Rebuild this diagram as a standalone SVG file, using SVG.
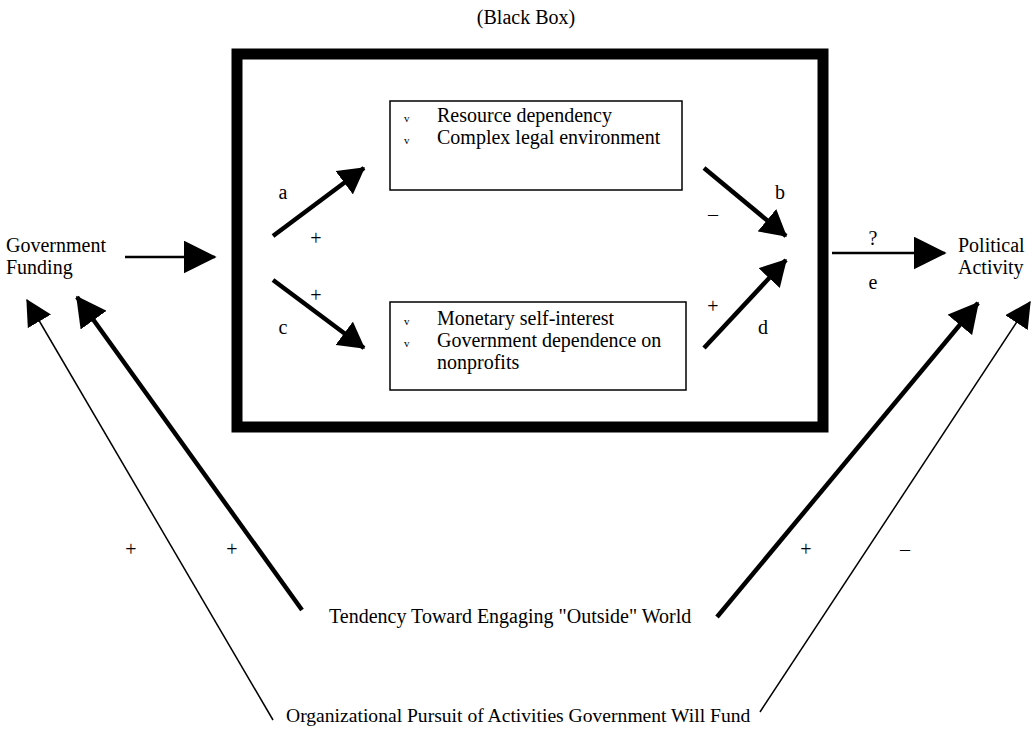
<svg xmlns="http://www.w3.org/2000/svg" width="1034" height="729" viewBox="0 0 1034 729">
<style>
text{font-family:"Liberation Serif","Times New Roman",serif;font-size:20px;fill:#000}
.c{text-anchor:middle}
.thick{stroke:#000;stroke-width:4.5;fill:none}
.med{stroke:#000;stroke-width:2.5;fill:none}
.thin{stroke:#000;stroke-width:1.5;fill:none}
.box{fill:#fff;stroke:#000;stroke-width:1.5}
.bul{font-size:11px}
</style>
<defs>
<marker id="horiz" viewBox="0 0 10 10" preserveAspectRatio="none" refX="9.5" refY="5" markerUnits="userSpaceOnUse" markerWidth="33" markerHeight="33" orient="auto"><path d="M0,0 L10,5 L0,10 z" fill="#000"/></marker>
<marker id="inner" viewBox="0 0 10 10" preserveAspectRatio="none" refX="9.5" refY="5" markerUnits="userSpaceOnUse" markerWidth="26" markerHeight="29" orient="auto"><path d="M0,0 L10,5 L0,10 z" fill="#000"/></marker>
<marker id="outer" viewBox="0 0 10 10" preserveAspectRatio="none" refX="9.5" refY="5" markerUnits="userSpaceOnUse" markerWidth="30" markerHeight="32" orient="auto"><path d="M0,0 L10,5 L0,10 z" fill="#000"/></marker>
<marker id="thinhead" viewBox="0 0 10 10" preserveAspectRatio="none" refX="9.5" refY="5" markerUnits="userSpaceOnUse" markerWidth="26" markerHeight="27" orient="auto"><path d="M0,0 L10,5 L0,10 z" fill="#000"/></marker>
</defs>
<rect width="1034" height="729" fill="#fff"/>
<text class="c" x="526" y="24">(Black Box)</text>
<g id="blackbox"><rect x="237" y="54" width="586" height="373" fill="none" stroke="#000" stroke-width="11"/></g>
<g id="box-top"><rect class="box" x="390" y="101" width="292" height="89"/>
<text class="bul" x="404" y="122">v</text><text x="437" y="122">Resource dependency</text>
<text class="bul" x="404" y="144">v</text><text x="437" y="144">Complex legal environment</text></g>
<g id="box-bottom"><rect class="box" x="390" y="302" width="296" height="88"/>
<text class="bul" x="404" y="325">v</text><text x="437" y="325">Monetary self-interest</text>
<text class="bul" x="404" y="347">v</text><text x="437" y="347">Government dependence on</text>
<text x="437" y="369">nonprofits</text></g>
<g id="gov-funding"><text x="6" y="252">Government</text><text x="6" y="274">Funding</text></g>
<g id="political-activity"><text x="958" y="252">Political</text><text x="958" y="274">Activity</text></g>
<g id="tendency"><text x="329" y="623">Tendency Toward Engaging "Outside" World</text></g>
<g id="pursuit"><text x="286" y="722" style="font-size:19.6px">Organizational Pursuit of Activities Government Will Fund</text></g>
<g id="connectors">
<line class="med" x1="125" y1="257" x2="215" y2="257" marker-end="url(#horiz)"/>
<line class="med" x1="832" y1="253" x2="945" y2="253" marker-end="url(#horiz)"/>
<line class="thick" x1="273" y1="236" x2="364" y2="168" marker-end="url(#inner)"/>
<line class="thick" x1="273" y1="280" x2="364" y2="348" marker-end="url(#inner)"/>
<line class="thick" x1="704" y1="168" x2="786" y2="236" marker-end="url(#inner)"/>
<line class="thick" x1="704" y1="348" x2="786" y2="260" marker-end="url(#inner)"/>
<line class="thin" x1="273" y1="720" x2="27" y2="300" marker-end="url(#thinhead)"/>
<line class="thick" x1="302" y1="610" x2="77" y2="297" marker-end="url(#outer)"/>
<line class="thick" x1="717" y1="617" x2="978" y2="303" marker-end="url(#outer)"/>
<line class="thin" x1="760" y1="712" x2="1030" y2="302" marker-end="url(#thinhead)"/>
</g>
<g id="labels">
<text class="c" x="283" y="199">a</text>
<text class="c" x="316" y="245">+</text>
<text class="c" x="316" y="302">+</text>
<text class="c" x="283" y="334">c</text>
<text class="c" x="780" y="199">b</text>
<text class="c" x="713" y="221">–</text>
<text class="c" x="713" y="313">+</text>
<text class="c" x="763" y="334">d</text>
<text class="c" x="873" y="245">?</text>
<text class="c" x="873" y="289">e</text>
<text class="c" x="131" y="556">+</text>
<text class="c" x="232" y="556">+</text>
<text class="c" x="806" y="556">+</text>
<text class="c" x="905" y="556">–</text>
</g>
</svg>
